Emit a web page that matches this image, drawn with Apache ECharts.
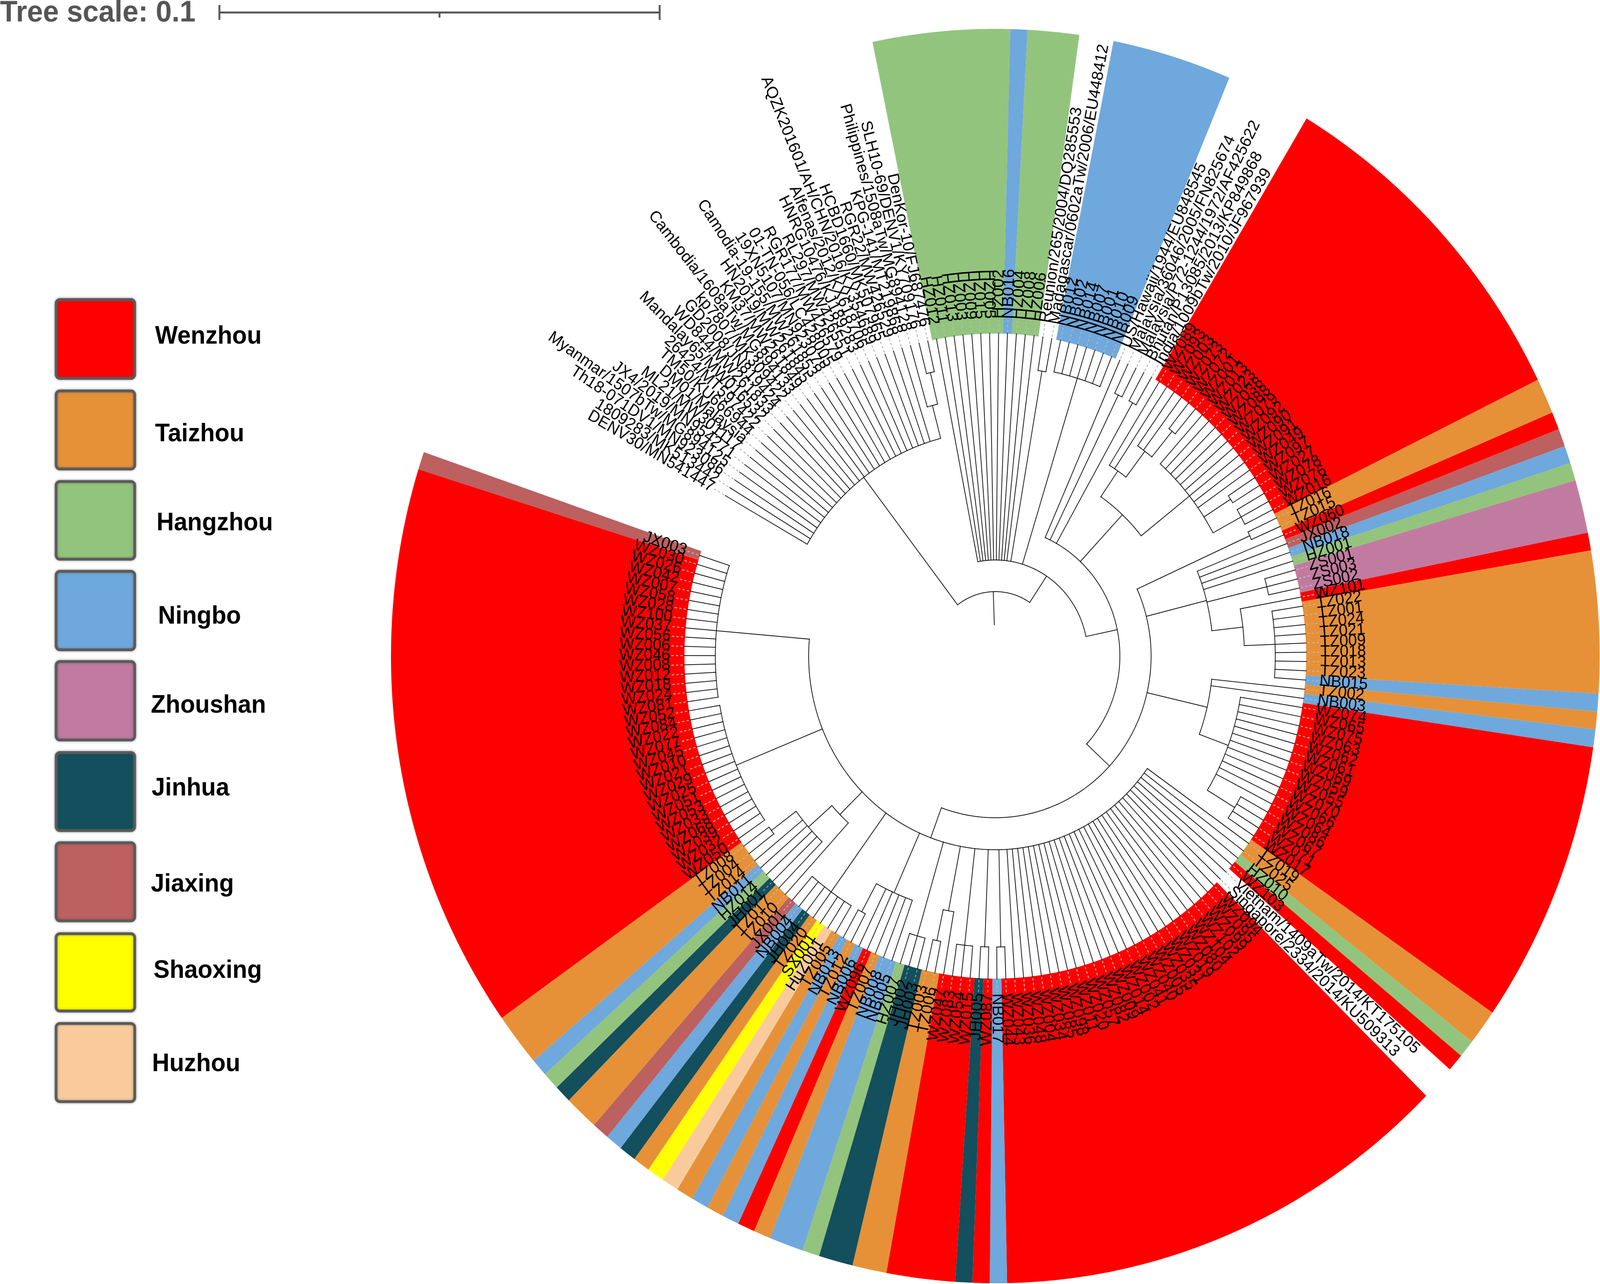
<!DOCTYPE html>
<html><head><meta charset="utf-8">
<style>html,body{margin:0;padding:0;background:#fff;overflow:hidden;width:100%;height:100%}#c{width:4252px;height:3288px;transform-origin:0 0}</style>
<script src="https://cdn.jsdelivr.net/npm/echarts@6/dist/echarts.min.js"></script>
</head><body><div id="c"></div>
<script>
// ---------- DATA ----------
const cityNames = ['Wenzhou','Taizhou','Hangzhou','Ningbo','Zhoushan','Jinhua','Jiaxing','Shaoxing','Huzhou'];
const cityPrefixes = ['WZ','TZ','HZ','NB','ZS','JH','JX','SX','HuZ'];

const referenceLabelsA = ['DENV30/MN541447','1809283/MK513442','Th18-071DV1/MN923086','Myanmar/1507bTw/MG894125','JX4/2019/MN954271','ML21/MW301117','DM01/Malaysia','TM50/KU666944','26424/MT597422','Mandalay65/MW016532','WD844/MW261833','GD2008/JN819424','kp7807/MK309422','Cambodia/1608aTw/MG894133','KM37/MW261849','HN2019/MW261845','Camodia-19-155/MW261853','19XN5107/MN923078','01-TN-056/LC428005','RGR177/MW426579','RL297/MW426551','HNRG10476/KJ189283','Alfenas/2012/KX618706','AQZK201601/AH/CHN/2016/KX354689','HCBD1660/MK507965','RGR22/MW426529','KPG-141/MT219868','Philippines/1508aTw/MG894128','SLH10-69/DENV1/KY709176','DenKor-10/FJ687476'];
const labelsTopA = ['HZ012','HZ011','HZ013','HZ003','HZ009','HZ015','HZ005','HZ002','NB016','HZ004','HZ008','HZ006','Reunion/265/2004/DQ285553','Madagascar/0602aTw/2006/EU448412','NB012','NB002','NB014','NB007','NB001','NB010','NB009'];
const labelsTopB = ['US/Hawaii/1944/EU848545','Malaysia/36046/2005/FN825674','Malaysia/P72-1244/1972/AF425622','Bhutan/P13085/2013/KP849868','India/1009bTw/2010/JF967939'];
const labelsRedTop = ['WZ089','WZ093','WZ003','WZ073','WZ072','WZ001','WZ013','WZ023','WZ038','WZ088','WZ079','WZ092','WZ090','WZ091','WZ049','WZ097','WZ027','WZ078','WZ076','WZ016'];
const labelsRight = ['TZ016','TZ015','WZ060','JX002','NB018','HZ001','ZS001','ZS003','ZS002','WZ101','TZ022','TZ001','TZ024','TZ021','TZ009','TZ018','TZ013','TZ023','NB015','TZ002','NB003'];
const labelsRedRight = ['WZ074','WZ065','WZ075','WZ063','WZ062','WZ061','WZ069','WZ059','WZ055','WZ070','WZ066','WZ064','WZ086','WZ067','WZ071','WZ017'];
const labelsMid = ['TZ019','TZ025','HZ010','WZ103','Vietnam/1409aTw/2014/KT175105','Singapore/2334/2014/KU509313'];
const labelsRedBottom = ['WZ094','WZ095','WZ099','WZ102','WZ104','WZ080','WZ019','WZ031','WZ035','WZ005','WZ040','WZ041','WZ002','WZ014','WZ009','WZ082','WZ057','WZ020','WZ011','WZ098','WZ085','WZ034','WZ004','WZ048','WZ036','WZ043','WZ044'];
const labelsBottom = ['NB017','WZ087','JH005','WZ015','WZ054','WZ083','WZ047','TZ006','TZ003','JH003','JH002','HZ007','NB005','NB008','TZ007','WZ096','NB006','TZ012','NB013','TZ005','HuZ001','SX001','TZ020','JH004','NB004','JX001','TZ010','TZ017','JH001','HZ014','NB011','TZ014','TZ004','TZ008'];
const labelsRedLeft = ['WZ050','WZ032','WZ039','WZ068','WZ033','WZ053','WZ051','WZ025','WZ029','WZ021','WZ010','WZ045','WZ077','WZ022','WZ084','WZ052','WZ081','WZ024','WZ018','WZ012','WZ008','WZ046','WZ006','WZ056','WZ037','WZ100','WZ028','WZ058','WZ007','WZ042','WZ026','WZ030','JX003'];
const tipLabels = [].concat(referenceLabelsA,labelsTopA,labelsTopB,labelsRedTop,labelsRight,labelsRedRight,labelsMid,labelsRedBottom,labelsBottom,labelsRedLeft);

// Tree topology: "n*" = n tips in order, ")r" closes a node at radius r
const cladeA = '(27*(*(**)746)663)576';
const cladeD = '((**(**(**)743)658)575(9*(**)743(3*)744)659)495';
const cladeG = '(4*(3*)743(*(9*)744)662)579';
const cladeL = '(**(12*(4*)745)660)578';
const cladeN = '(32*(**)745(**)745(3*)745(*(**)745)664(3*)746(5*(**)745)663(7*)745(*(5*(**)744)662)579(16*)743(17*)744)496';
const cladeF = '((**)743' + cladeG + cladeL + cladeN + ')414';
const cladeC = '(*(**)744(**)744' + cladeD + cladeF + ')331';
const cladeB = '(12*(**)740(7*)744' + cladeC + ')246';
const treeTopology = '(' + cladeA + cladeB + ')165';
const rootStemRadius = 80;
const tipRadius = 827;

// ---------- STYLE / LAYOUT ----------
const cityColors = ['#ff0000','#e69138','#93c47d','#6fa8dc','#c27ba0','#134f5c','#bc6060','#ffff00','#f9cb9c'];
const dashColors = ['#b4e6e6','#b5bcc8','#b8bcc0','#c9b9a4','#c8c8c8','#9fb8bc','#c8c8c8','#c8c8c8','#c8c8c8'];
const LEAVES = tipLabels.length;
const LEAF_DEG = 350 / 213;
const FULL_TURN = 360 / LEAF_DEG;
const RANGE_IN = 826, RANGE_OUT = 1606, LABEL_R = 864;
const CX = 2645, CY = 1680;
const PAGE_W = 4252, PAGE_H = 3288;
const FONT = '"Liberation Sans", Arial, sans-serif';

// The sandbox's real window can be narrower than the page: keep the whole figure in frame.
document.getElementById('c').style.transform =
  'scale(' + Math.min(1, window.innerWidth / PAGE_W) + ',' + Math.min(1, window.innerHeight / PAGE_H) + ')';

// ---------- DERIVED ----------
function cityOf(name){
  const m = /^([A-Za-z]+)\d{3}$/.exec(name);
  return m ? cityPrefixes.indexOf(m[1]) : -1;
}
const tipCity = tipLabels.map(cityOf);

const rangeRows = [];
for (let i = 0; i < LEAVES; ) {
  let j = i;
  while (j + 1 < LEAVES && tipCity[j + 1] === tipCity[i]) j++;
  if (tipCity[i] >= 0) rangeRows.push([RANGE_IN, i - 0.5, RANGE_OUT, j + 0.5, tipCity[i]]);
  i = j + 1;
}

const branchRows = [];           // [r0, a0, r1, a1]
(function buildTree(){
  const re = /\(|\)(\d+)|(\d*)\*/g;
  const stack = [[]];
  let leaf = 0, m;
  while ((m = re.exec(treeTopology))) {
    if (m[0] === '(') { stack.push([]); }
    else if (m[0][0] === ')') {
      const kids = stack.pop(), r = +m[1];
      const first = kids[0].a, last = kids[kids.length - 1].a;
      branchRows.push([r, first, r, last]);
      kids.forEach(k => branchRows.push([r, k.a, k.r, k.a]));
      stack[stack.length - 1].push({ r: r, a: (first + last) / 2 });
    } else {
      const n = m[2] === '' ? 1 : +m[2];
      for (let k = 0; k < n; k++) stack[stack.length - 1].push({ r: tipRadius, a: leaf++ });
    }
  }
  const root = stack[0][0];
  branchRows.push([rootStemRadius, root.a, root.r, root.a]);
})();

const tipRows = tipLabels.map((n, i) => [LABEL_R, i]);

// ---------- RENDERERS ----------
function arcPoints(api, r0, a0, r1, a1){
  const pts = [];
  const n = Math.max(1, Math.ceil(Math.abs(a1 - a0) / 0.25));
  for (let i = 0; i <= n; i++) {
    const t = i / n;
    pts.push(api.coord([r0 + (r1 - r0) * t, a0 + (a1 - a0) * t]));
  }
  return pts;
}
function renderRange(params, api){
  const r0 = api.value(0), a0 = api.value(1), r1 = api.value(2), a1 = api.value(3);
  const pts = arcPoints(api, r0, a0, r0, a1).concat(arcPoints(api, r1, a1, r1, a0));
  return { type:'polygon', shape:{ points:pts }, style:{ fill:cityColors[api.value(4)] } };
}
function renderBranch(params, api){
  return { type:'polyline',
    shape:{ points:arcPoints(api, api.value(0), api.value(1), api.value(2), api.value(3)) },
    style:{ stroke:'#111', lineWidth:2, fill:null, lineCap:'square' } };
}
function renderDash(params, api){
  const i = params.dataIndex, c = tipCity[i];
  return { type:'polyline',
    shape:{ points:[api.coord([tipRadius + 4, i]), api.coord([LABEL_R - 3, i])] },
    style:{ stroke:c >= 0 ? dashColors[c] : '#a6a6a6', lineWidth:2, lineDash:[6,6], fill:null } };
}
function renderLabel(params, api){
  const i = params.dataIndex;
  const p = api.coord([LABEL_R, i]);
  const o = api.coord([0, i]);
  const math = Math.atan2(o[1] - p[1], p[0] - o[0]);   // radians, counter-clockwise from east
  const right = Math.cos(math) >= 0;
  return { type:'text', x:p[0], y:p[1], rotation: right ? math : math + Math.PI,
    style:{ text:tipLabels[i], font:'42px ' + FONT, fill:'#000',
      textAlign: right ? 'left' : 'right', textVerticalAlign:'middle' } };
}

// ---------- LEGEND + SCALE BAR ----------
const legendBoxTop = [763,997,1229,1459,1690,1923,2154,2387,2617];
const legendBoxBottom = [973,1205,1436,1668,1899,2131,2362,2593,2825];
const legendTextX = [412,412,416,420,401,403,401,408,404];
const legendTextY = [862,1112,1340,1579,1807,2019,2265,2486,2725];
const graphics = [];
cityNames.forEach((n, i) => {
  graphics.push({ type:'rect', shape:{ x:149, y:legendBoxTop[i] + 4, width:209, height:legendBoxBottom[i] - legendBoxTop[i] - 8, r:10 },
    style:{ fill:cityColors[i], stroke:'#5a5a5a', lineWidth:7, shadowBlur:6, shadowColor:'rgba(80,80,80,0.55)' } });
  graphics.push({ type:'text', x:legendTextX[i], y:legendTextY[i],
    style:{ text:n, font:'bold 64px ' + FONT, fill:'#000', textAlign:'left', textVerticalAlign:'middle' } });
});
graphics.push({ type:'text', x:0, y:34, style:{ text:'Tree scale: 0.1', font:'bold 76px ' + FONT, fill:'#555', textAlign:'left', textVerticalAlign:'middle' } });
[[583,32,1753,32],[583,13,583,51],[1753,13,1753,51],[1168,32,1168,45]].forEach(s =>
  graphics.push({ type:'line', shape:{ x1:s[0], y1:s[1], x2:s[2], y2:s[3] }, style:{ stroke:'#555', lineWidth:5 } }));

// ---------- CHART ----------
const chart = echarts.init(document.getElementById('c'), null, { renderer:'canvas', width:PAGE_W, height:PAGE_H });
const polarSeries = (data, renderItem, z) => ({ type:'custom', coordinateSystem:'polar', data, renderItem, z, silent:true, animation:false, progressive:0 });
chart.setOption({
  backgroundColor:'#fff',
  animation:false,
  polar:{ center:[CX, CY], radius:[0, RANGE_OUT] },
  angleAxis:{ type:'value', min:0, max:FULL_TURN, startAngle:150.2, clockwise:true, show:false },
  radiusAxis:{ type:'value', min:0, max:RANGE_OUT, show:false },
  graphic:{ elements:graphics },
  series:[
    polarSeries(rangeRows, renderRange, 1),
    polarSeries(branchRows, renderBranch, 2),
    polarSeries(tipRows, renderDash, 3),
    polarSeries(tipRows, renderLabel, 4)
  ]
});
</script></body></html>
